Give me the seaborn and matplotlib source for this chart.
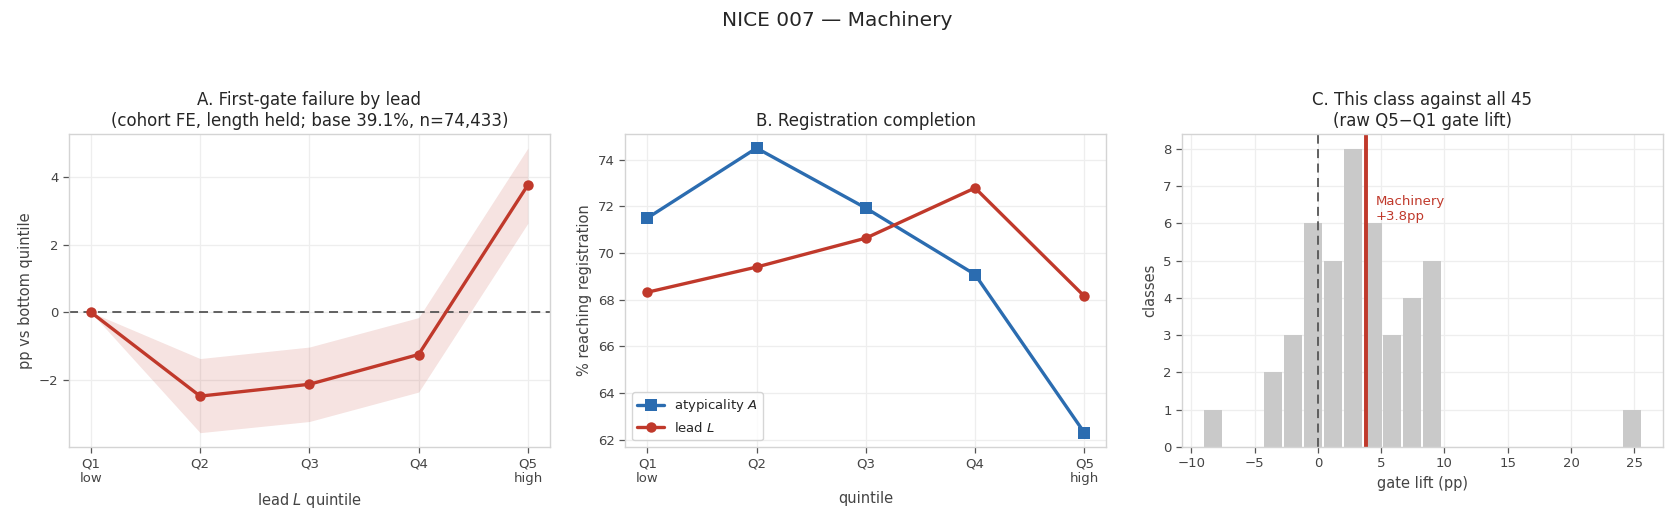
import numpy as np
import matplotlib
matplotlib.use("Agg")
import matplotlib.pyplot as plt
from matplotlib.ticker import MultipleLocator
import seaborn as sns

sns.set_theme(style="whitegrid")
plt.rcParams["font.family"] = ["DejaVu Sans"]
plt.rcParams.update({
    "axes.edgecolor": "#d4d4d4",
    "axes.linewidth": 1.0,
    "grid.color": "#eeeeee",
    "grid.linewidth": 0.9,
    "xtick.bottom": True,
    "ytick.left": True,
    "xtick.color": "#555555",
    "ytick.color": "#555555",
    "xtick.labelcolor": "#444444",
    "ytick.labelcolor": "#444444",
    "xtick.major.size": 4,
    "ytick.major.size": 4,
    "axes.labelcolor": "#444444",
})

RED = "#c0392b"
BLUE = "#2b6cb0"

# data
quintile_labels = ["Q1\nlow", "Q2", "Q3", "Q4", "Q5\nhigh"]
gate_effect = [0.0, -2.48, -2.13, -1.25, 3.76]
gate_lo = [0.0, -3.56, -3.23, -2.36, 2.63]
gate_hi = [0.0, -1.37, -1.03, -0.16, 4.85]

reg_atyp = [71.50, 74.50, 71.93, 69.08, 62.30]
reg_lead = [68.32, 69.40, 70.64, 72.79, 68.15]

class_lifts = [
    -9.08,
    -3.9, -3.1,
    -2.5, -2.0, -1.5,
    -1.1, -0.8, -0.5, -0.2, 0.0, 0.2,
    0.5, 0.9, 1.2, 1.5, 1.8,
    2.0, 2.2, 2.5, 2.7, 2.9, 3.1, 3.3, 3.45,
    3.6, 3.8, 4.1, 4.4, 4.7, 5.0,
    5.3, 5.8, 6.4,
    6.9, 7.3, 7.8, 8.1,
    8.4, 8.8, 9.1, 9.4, 9.7,
    25.6,
]
this_class = "Machinery"
this_lift = 3.8

x = np.arange(len(quintile_labels))

fig = plt.figure(figsize=(16.75, 5.27), dpi=100)
ax1 = fig.add_axes([0.0412, 0.152, 0.287, 0.594])
ax2 = fig.add_axes([0.3734, 0.152, 0.287, 0.594])
ax3 = fig.add_axes([0.7057, 0.152, 0.287, 0.594])

# A. first-gate failure
ax1.fill_between(x, gate_lo, gate_hi, color=RED, alpha=0.14, linewidth=0)
ax1.axhline(0, color="#555555", lw=1.3, ls=(0, (5, 3)))
sns.lineplot(x=x, y=gate_effect, color=RED, lw=2.4, marker="o", markersize=7.5,
             markeredgewidth=0, ax=ax1)
ax1.set_xticks(x)
ax1.set_xticklabels(quintile_labels)
ax1.set_xlim(-0.2, 4.2)
ax1.set_xlabel("lead $L$ quintile", fontsize=10.5)
ax1.set_ylabel("pp vs bottom quintile", fontsize=10.5)
ax1.set_title("A. First-gate failure by lead\n(cohort FE, length held; base 39.1%, n=74,433)",
              fontsize=12)

# B. registration completion
sns.lineplot(x=x, y=reg_atyp, color=BLUE, lw=2.4, marker="s", markersize=8,
             markeredgewidth=0, label="atypicality $A$", ax=ax2)
sns.lineplot(x=x, y=reg_lead, color=RED, lw=2.4, marker="o", markersize=7.5,
             markeredgewidth=0, label="lead $L$", ax=ax2)
ax2.set_xticks(x)
ax2.set_xticklabels(quintile_labels)
ax2.set_xlim(-0.2, 4.2)
ax2.set_xlabel("quintile", fontsize=10.5)
ax2.set_ylabel("% reaching registration", fontsize=10.5)
ax2.set_title("B. Registration completion", fontsize=12)
leg = ax2.legend(loc="lower left", fontsize=9.5, frameon=True, fancybox=True)
leg.get_frame().set_edgecolor("#cccccc")

# C. this class against all
sns.histplot(x=class_lifts, bins=22, shrink=0.9, color="#c9c9c9", alpha=1,
             edgecolor="white", linewidth=0, ax=ax3)
ax3.axvline(0, color="#555555", lw=1.3, ls=(0, (5, 3)))
ax3.axvline(this_lift, color=RED, lw=2.8)
ax3.text(this_lift + 0.8, 6.0, f"{this_class}\n+{this_lift:.1f}pp", color=RED,
         fontsize=9.5, va="bottom", ha="left")
ax3.yaxis.set_major_locator(MultipleLocator(1))
ax3.set_xlabel("gate lift (pp)", fontsize=10.5)
ax3.set_ylabel("classes", fontsize=10.5)
ax3.set_title("C. This class against all 45\n(raw Q5\u2212Q1 gate lift)", fontsize=12)

for ax in (ax1, ax2, ax3):
    ax.tick_params(labelsize=9.5, width=0.9)

fig.suptitle("NICE 007 \u2014 Machinery", fontsize=14.5, y=0.98)

fig.savefig("out.png", dpi=100)
